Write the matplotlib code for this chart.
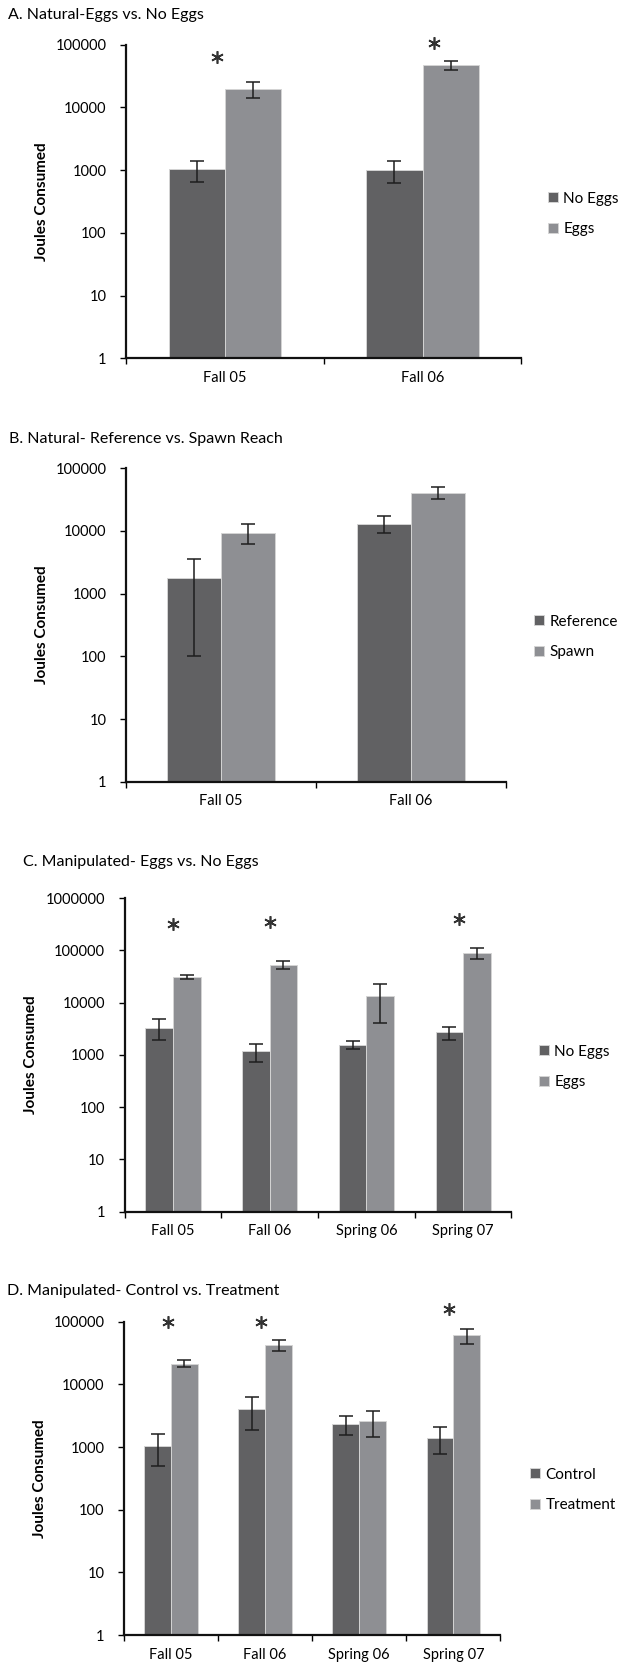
import numpy as np
import matplotlib.pyplot as plt
from matplotlib.ticker import FixedLocator, FuncFormatter, NullLocator

plt.rcParams['font.family'] = ['Lato', 'DejaVu Sans']

# ---- data ----
cats_ab = ['Fall 05', 'Fall 06']
cats_cd = ['Fall 05', 'Fall 06', 'Spring 06', 'Spring 07']

# A. Natural - eggs vs no eggs
a_noeggs = [1030, 1020]
a_noeggs_lo = [650, 635]
a_noeggs_hi = [1415, 1420]
a_eggs = [19700, 47100]
a_eggs_lo = [14200, 39600]
a_eggs_hi = [25800, 55200]
a_star = [64600, 105700]
a_star_dx = [-0.04, 0.06]

# B. Natural - reference vs spawn reach
b_ref = [1790, 13000]
b_ref_lo = [102, 9350]
b_ref_hi = [3550, 17100]
b_spawn = [9350, 40800]
b_spawn_lo = [6090, 32300]
b_spawn_hi = [12900, 50300]

# C. Manipulated - eggs vs no eggs
c_noeggs = [3300, 1180, 1560, 2690]
c_noeggs_lo = [1890, 735, 1290, 1915]
c_noeggs_hi = [4840, 1630, 1860, 3450]
c_eggs = [31000, 53500, 13400, 90800]
c_eggs_lo = [27960, 44150, 4120, 69700]
c_eggs_hi = [33870, 63800, 22750, 113300]
c_star = [316000, 349000, None, 394000]
c_star_dx = [0, 0, 0, -0.04]

# D. Manipulated - control vs treatment
d_ctrl = [1050, 4090, 2300, 1410]
d_ctrl_lo = [497, 1845, 1535, 783]
d_ctrl_hi = [1633, 6350, 3085, 2060]
d_treat = [21100, 42400, 2570, 60500]
d_treat_lo = [18680, 34040, 1445, 44000]
d_treat_hi = [24450, 51600, 3710, 77300]
d_star = [100000, 100000, None, 162000]
d_star_dx = [-0.03, -0.04, 0, -0.045]

DARK = '#616163'
LIGHT = '#8e8f93'
EDGE = '#d4d4d4'

W, H = 619, 1669
fig = plt.figure(figsize=(W / 100, H / 100), dpi=100)


def rect(l, t, r, b):
    return [l / W, 1 - b / H, (r - l) / W, (b - t) / H]


def panel(box, title, tx, ty, cats, s1, s2, names, top, ylx, leg, stars=None, sdx=None):
    ax = fig.add_axes(rect(*box))
    ax.set_yscale('log')
    x = np.arange(len(cats))
    w = 0.285
    ekw = dict(ecolor='#1e1e1e', elinewidth=1.1, capsize=5, capthick=1.1, zorder=4)
    for (v, lo, hi), off, col, name in zip([s1, s2], [-w / 2, w / 2], [DARK, LIGHT], names):
        err = [np.subtract(v, lo), np.subtract(hi, v)]
        ax.bar(x + off, v, w, color=col, edgecolor=EDGE, linewidth=0.7,
               yerr=err, error_kw=ekw, label=name, zorder=2)
    ax.set_ylim(1, 10 ** top)
    ax.set_xlim(-0.5, len(cats) - 0.5)
    ax.yaxis.set_major_locator(FixedLocator([10 ** k for k in range(top + 1)]))
    ax.yaxis.set_major_formatter(FuncFormatter(lambda v, p: '%d' % round(v)))
    ax.yaxis.set_minor_locator(NullLocator())
    ax.set_xticks(np.arange(len(cats) + 1) - 0.5)
    ax.set_xticklabels([])
    ax.set_xticks(x, minor=True)
    ax.set_xticklabels(cats, minor=True)
    ax.tick_params(axis='y', direction='out', length=4, width=1, pad=10, labelsize=10.5)
    ax.tick_params(axis='x', which='major', direction='out', length=4, width=1)
    ax.tick_params(axis='x', which='minor', length=0, pad=9, labelsize=10.5)
    for s in ['top', 'right']:
        ax.spines[s].set_visible(False)
    for s in ['left', 'bottom']:
        ax.spines[s].set_linewidth(1.6)
        ax.spines[s].set_color('#111111')
        ax.spines[s].set_zorder(5)
    if stars:
        sx = [x[i] + sdx[i] for i in range(len(cats)) if stars[i] is not None]
        sy = [s for s in stars if s is not None]
        ax.plot(sx, sy, linestyle='none', marker=(6, 2, 0), markersize=9,
                markeredgewidth=1.2, color='#333333', clip_on=False, zorder=6)
    fig.text(tx / W, 1 - ty / H, title, ha='left', va='center', fontsize=11.5)
    fig.text(ylx / W, 1 - (box[1] + box[3]) / 2 / H, 'Joules Consumed', rotation=90,
             ha='center', va='center', fontsize=11, fontweight='bold')
    ax.legend(loc='center left', bbox_to_anchor=(leg[0] / W, 1 - leg[1] / H),
              bbox_transform=fig.transFigure, frameon=False, fontsize=11,
              handlelength=0.65, handleheight=0.65, handletextpad=0.35,
              labelspacing=1.1, borderpad=0, borderaxespad=0)
    return ax


panel((126, 44.8, 521.4, 358.3), 'A. Natural-Eggs vs. No Eggs', 8, 15, cats_ab,
      (a_noeggs, a_noeggs_lo, a_noeggs_hi), (a_eggs, a_eggs_lo, a_eggs_hi),
      ['No Eggs', 'Eggs'], 5, 41.5, (548, 214), a_star, a_star_dx)

panel((126, 468.3, 505.5, 781.7), 'B. Natural- Reference vs. Spawn Reach', 8.7, 439, cats_ab,
      (b_ref, b_ref_lo, b_ref_hi), (b_spawn, b_spawn_lo, b_spawn_hi),
      ['Reference', 'Spawn'], 5, 41.5, (534, 637))

panel((124.6, 898.3, 511.5, 1211.5), 'C. Manipulated- Eggs vs. No Eggs', 23, 862, cats_cd,
      (c_noeggs, c_noeggs_lo, c_noeggs_hi), (c_eggs, c_eggs_lo, c_eggs_hi),
      ['No Eggs', 'Eggs'], 6, 31, (539, 1067), c_star, c_star_dx)

panel((124, 1321.7, 500.4, 1635), 'D. Manipulated- Control vs. Treatment', 7, 1291, cats_cd,
      (d_ctrl, d_ctrl_lo, d_ctrl_hi), (d_treat, d_treat_lo, d_treat_hi),
      ['Control', 'Treatment'], 5, 39.6, (530, 1490), d_star, d_star_dx)

fig.savefig('out.png', dpi=100)
